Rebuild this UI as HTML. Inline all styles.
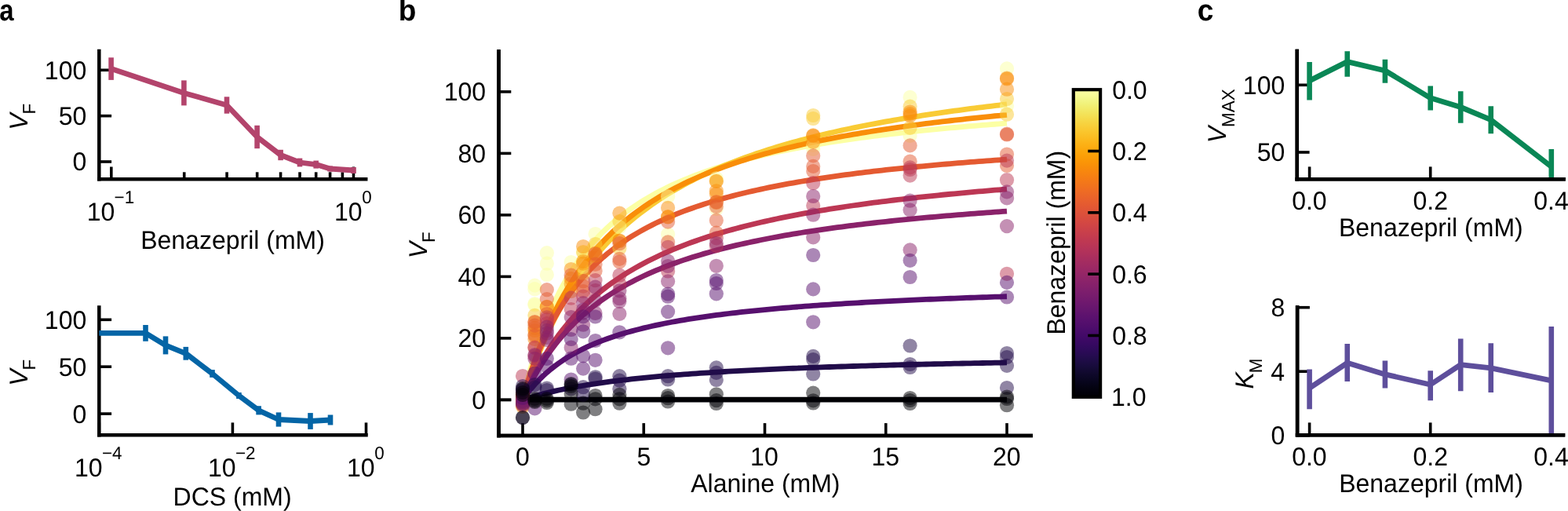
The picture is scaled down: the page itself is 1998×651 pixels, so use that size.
<!DOCTYPE html>
<html><head><meta charset="utf-8"><style>
html,body{margin:0;padding:0;background:#fff;}
svg{display:block;}
text{font-family:'Liberation Sans', Arial, sans-serif;text-rendering:geometricPrecision;}
</style></head><body>
<svg width="1998" height="651" viewBox="0 0 1998 651">
<rect width="1998" height="651" fill="#fff"/>
<text transform="translate(-0.66,26.20) scale(0.89,1.025)" font-size="37.00" font-weight="bold" fill="#000">a</text>
<text transform="translate(507.66,26.00) scale(1,1.025)" font-size="37.00" font-weight="bold" fill="#000">b</text>
<text transform="translate(1525.65,26.10) scale(1,1.025)" font-size="37.00" font-weight="bold" fill="#000">c</text>
<line x1="126.30" y1="62.85" x2="126.30" y2="230.55" stroke="#000" stroke-width="4.5" stroke-linecap="butt"/>
<line x1="124.05" y1="228.30" x2="468.45" y2="228.30" stroke="#000" stroke-width="4.5" stroke-linecap="butt"/>
<line x1="126.30" y1="89.30" x2="142.10" y2="89.30" stroke="#000" stroke-width="3.6" stroke-linecap="butt"/>
<text transform="translate(56.86,100.70) scale(1,1.025)" font-size="32.00" fill="#000">100</text>
<line x1="126.30" y1="147.65" x2="142.10" y2="147.65" stroke="#000" stroke-width="3.6" stroke-linecap="butt"/>
<text transform="translate(74.66,159.05) scale(1,1.025)" font-size="32.00" fill="#000">50</text>
<line x1="126.30" y1="206.00" x2="142.10" y2="206.00" stroke="#000" stroke-width="3.6" stroke-linecap="butt"/>
<text transform="translate(92.45,217.40) scale(1,1.025)" font-size="32.00" fill="#000">0</text>
<line x1="141.80" y1="228.30" x2="141.80" y2="212.50" stroke="#000" stroke-width="3.6" stroke-linecap="butt"/>
<line x1="450.50" y1="228.30" x2="450.50" y2="212.50" stroke="#000" stroke-width="3.6" stroke-linecap="butt"/>
<line x1="234.73" y1="228.30" x2="234.73" y2="219.30" stroke="#000" stroke-width="3.6" stroke-linecap="butt"/>
<line x1="289.09" y1="228.30" x2="289.09" y2="219.30" stroke="#000" stroke-width="3.6" stroke-linecap="butt"/>
<line x1="327.66" y1="228.30" x2="327.66" y2="219.30" stroke="#000" stroke-width="3.6" stroke-linecap="butt"/>
<line x1="357.57" y1="228.30" x2="357.57" y2="219.30" stroke="#000" stroke-width="3.6" stroke-linecap="butt"/>
<line x1="382.02" y1="228.30" x2="382.02" y2="219.30" stroke="#000" stroke-width="3.6" stroke-linecap="butt"/>
<line x1="402.68" y1="228.30" x2="402.68" y2="219.30" stroke="#000" stroke-width="3.6" stroke-linecap="butt"/>
<line x1="420.58" y1="228.30" x2="420.58" y2="219.30" stroke="#000" stroke-width="3.6" stroke-linecap="butt"/>
<line x1="436.37" y1="228.30" x2="436.37" y2="219.30" stroke="#000" stroke-width="3.6" stroke-linecap="butt"/>
<text transform="translate(110.66,280.70) scale(1,1.025)" font-size="32.00" fill="#000">10</text>
<text transform="translate(145.60,258.50) scale(1,1.025)" font-size="22.40" fill="#000">−1</text>
<text transform="translate(426.06,280.70) scale(1,1.025)" font-size="32.00" fill="#000">10</text>
<text transform="translate(461.23,258.50) scale(1,1.025)" font-size="22.40" fill="#000">0</text>
<text transform="translate(179.18,317.00) scale(1,1.025)" font-size="32.00" fill="#000">Benazepril (mM)</text>
<text transform="translate(35.00,165.77) rotate(-90) scale(1,1.025)" font-size="32.00" font-style="italic" fill="#000">V</text>
<text transform="translate(45.00,145.42) rotate(-90) scale(1,1.025)" font-size="22.40" fill="#000">F</text>
<polyline points="141.60,87.60 234.40,118.40 289.00,134.00 327.60,174.50 357.60,197.50 382.00,207.00 402.70,209.60 420.60,215.00 450.50,217.00" fill="none" stroke="#b3446c" stroke-width="6.8" stroke-linejoin="round" stroke-linecap="butt"/>
<line x1="141.60" y1="73.30" x2="141.60" y2="101.90" stroke="#b3446c" stroke-width="6.6" stroke-linecap="butt"/>
<line x1="234.40" y1="102.40" x2="234.40" y2="134.40" stroke="#b3446c" stroke-width="6.6" stroke-linecap="butt"/>
<line x1="289.00" y1="123.30" x2="289.00" y2="144.70" stroke="#b3446c" stroke-width="6.6" stroke-linecap="butt"/>
<line x1="327.60" y1="159.80" x2="327.60" y2="189.20" stroke="#b3446c" stroke-width="6.6" stroke-linecap="butt"/>
<line x1="357.60" y1="190.80" x2="357.60" y2="204.20" stroke="#b3446c" stroke-width="6.6" stroke-linecap="butt"/>
<line x1="382.00" y1="201.60" x2="382.00" y2="212.40" stroke="#b3446c" stroke-width="6.6" stroke-linecap="butt"/>
<line x1="402.70" y1="204.60" x2="402.70" y2="214.60" stroke="#b3446c" stroke-width="6.6" stroke-linecap="butt"/>
<line x1="420.60" y1="211.50" x2="420.60" y2="218.50" stroke="#b3446c" stroke-width="6.6" stroke-linecap="butt"/>
<line x1="450.50" y1="213.00" x2="450.50" y2="221.00" stroke="#b3446c" stroke-width="6.6" stroke-linecap="butt"/>
<line x1="126.30" y1="389.35" x2="126.30" y2="556.45" stroke="#000" stroke-width="4.5" stroke-linecap="butt"/>
<line x1="124.05" y1="554.20" x2="468.75" y2="554.20" stroke="#000" stroke-width="4.5" stroke-linecap="butt"/>
<line x1="126.30" y1="407.30" x2="142.10" y2="407.30" stroke="#000" stroke-width="3.6" stroke-linecap="butt"/>
<text transform="translate(56.86,418.70) scale(1,1.025)" font-size="32.00" fill="#000">100</text>
<line x1="126.30" y1="467.20" x2="142.10" y2="467.20" stroke="#000" stroke-width="3.6" stroke-linecap="butt"/>
<text transform="translate(74.66,478.60) scale(1,1.025)" font-size="32.00" fill="#000">50</text>
<line x1="126.30" y1="527.10" x2="142.10" y2="527.10" stroke="#000" stroke-width="3.6" stroke-linecap="butt"/>
<text transform="translate(92.45,538.50) scale(1,1.025)" font-size="32.00" fill="#000">0</text>
<line x1="126.30" y1="554.20" x2="126.30" y2="538.40" stroke="#000" stroke-width="3.6" stroke-linecap="butt"/>
<line x1="296.40" y1="554.20" x2="296.40" y2="538.40" stroke="#000" stroke-width="3.6" stroke-linecap="butt"/>
<line x1="466.50" y1="554.20" x2="466.50" y2="538.40" stroke="#000" stroke-width="3.6" stroke-linecap="butt"/>
<text transform="translate(95.06,606.80) scale(1,1.025)" font-size="32.00" fill="#000">10</text>
<text transform="translate(130.00,584.60) scale(1,1.025)" font-size="22.40" fill="#000">−4</text>
<text transform="translate(265.06,606.80) scale(1,1.025)" font-size="32.00" fill="#000">10</text>
<text transform="translate(300.00,584.60) scale(1,1.025)" font-size="22.40" fill="#000">−2</text>
<text transform="translate(442.06,606.80) scale(1,1.025)" font-size="32.00" fill="#000">10</text>
<text transform="translate(477.23,584.60) scale(1,1.025)" font-size="22.40" fill="#000">0</text>
<text transform="translate(220.57,643.80) scale(1,1.025)" font-size="32.00" fill="#000">DCS (mM)</text>
<text transform="translate(35.00,491.77) rotate(-90) scale(1,1.025)" font-size="32.00" font-style="italic" fill="#000">V</text>
<text transform="translate(45.00,471.42) rotate(-90) scale(1,1.025)" font-size="22.40" fill="#000">F</text>
<polyline points="126.30,424.40 185.50,424.40 211.00,439.90 236.80,450.30 270.50,476.00 304.40,504.00 329.60,522.80 355.00,534.50 395.50,536.50 421.00,535.00" fill="none" stroke="#0465a6" stroke-width="6.8" stroke-linejoin="round" stroke-linecap="butt"/>
<line x1="185.50" y1="414.00" x2="185.50" y2="434.80" stroke="#0465a6" stroke-width="6.6" stroke-linecap="butt"/>
<line x1="211.00" y1="428.40" x2="211.00" y2="451.40" stroke="#0465a6" stroke-width="6.6" stroke-linecap="butt"/>
<line x1="236.80" y1="441.90" x2="236.80" y2="458.70" stroke="#0465a6" stroke-width="6.6" stroke-linecap="butt"/>
<line x1="270.50" y1="471.10" x2="270.50" y2="480.90" stroke="#0465a6" stroke-width="6.6" stroke-linecap="butt"/>
<line x1="304.40" y1="500.00" x2="304.40" y2="508.00" stroke="#0465a6" stroke-width="6.6" stroke-linecap="butt"/>
<line x1="329.60" y1="517.20" x2="329.60" y2="528.40" stroke="#0465a6" stroke-width="6.6" stroke-linecap="butt"/>
<line x1="355.00" y1="525.40" x2="355.00" y2="543.60" stroke="#0465a6" stroke-width="6.6" stroke-linecap="butt"/>
<line x1="395.50" y1="526.10" x2="395.50" y2="546.90" stroke="#0465a6" stroke-width="6.6" stroke-linecap="butt"/>
<line x1="421.00" y1="528.50" x2="421.00" y2="541.50" stroke="#0465a6" stroke-width="6.6" stroke-linecap="butt"/>
<line x1="1652.80" y1="62.75" x2="1652.80" y2="230.45" stroke="#000" stroke-width="4.5" stroke-linecap="butt"/>
<line x1="1650.55" y1="228.20" x2="1994.85" y2="228.20" stroke="#000" stroke-width="4.5" stroke-linecap="butt"/>
<line x1="1652.80" y1="108.30" x2="1668.60" y2="108.30" stroke="#000" stroke-width="3.6" stroke-linecap="butt"/>
<text transform="translate(1583.86,119.70) scale(1,1.025)" font-size="32.00" fill="#000">100</text>
<line x1="1652.80" y1="194.00" x2="1668.60" y2="194.00" stroke="#000" stroke-width="3.6" stroke-linecap="butt"/>
<text transform="translate(1601.66,205.40) scale(1,1.025)" font-size="32.00" fill="#000">50</text>
<line x1="1668.60" y1="228.20" x2="1668.60" y2="212.40" stroke="#000" stroke-width="3.6" stroke-linecap="butt"/>
<text transform="translate(1646.16,267.30) scale(1,1.025)" font-size="32.00" fill="#000">0.0</text>
<line x1="1822.70" y1="228.20" x2="1822.70" y2="212.40" stroke="#000" stroke-width="3.6" stroke-linecap="butt"/>
<text transform="translate(1800.44,267.30) scale(1,1.025)" font-size="32.00" fill="#000">0.2</text>
<line x1="1976.80" y1="228.20" x2="1976.80" y2="212.40" stroke="#000" stroke-width="3.6" stroke-linecap="butt"/>
<text transform="translate(1954.20,267.30) scale(1,1.025)" font-size="32.00" fill="#000">0.4</text>
<text transform="translate(1705.97,300.90) scale(1,1.025)" font-size="32.00" fill="#000">Benazepril (mM)</text>
<text transform="translate(1562.30,182.27) rotate(-90) scale(1,1.025)" font-size="32.00" font-style="italic" fill="#000">V</text>
<text transform="translate(1572.80,161.92) rotate(-90) scale(1,1.025)" font-size="22.40" fill="#000">MAX</text>
<clipPath id="clipc1"><rect x="1652.8" y="65.0" width="339.79999999999995" height="163.2"/></clipPath>
<g clip-path="url(#clipc1)">
<polyline points="1668.60,102.90 1716.76,78.60 1764.91,90.00 1822.70,124.80 1861.22,136.50 1899.75,152.70 1976.80,212.40" fill="none" stroke="#0a8756" stroke-width="6.8" stroke-linejoin="round" stroke-linecap="butt"/>
<line x1="1668.60" y1="78.90" x2="1668.60" y2="127.60" stroke="#0a8756" stroke-width="6.6" stroke-linecap="butt"/>
<line x1="1716.76" y1="65.20" x2="1716.76" y2="97.80" stroke="#0a8756" stroke-width="6.6" stroke-linecap="butt"/>
<line x1="1764.91" y1="75.70" x2="1764.91" y2="105.70" stroke="#0a8756" stroke-width="6.6" stroke-linecap="butt"/>
<line x1="1822.70" y1="109.40" x2="1822.70" y2="140.50" stroke="#0a8756" stroke-width="6.6" stroke-linecap="butt"/>
<line x1="1861.22" y1="116.20" x2="1861.22" y2="156.80" stroke="#0a8756" stroke-width="6.6" stroke-linecap="butt"/>
<line x1="1899.75" y1="135.20" x2="1899.75" y2="170.20" stroke="#0a8756" stroke-width="6.6" stroke-linecap="butt"/>
<line x1="1976.80" y1="189.90" x2="1976.80" y2="234.90" stroke="#0a8756" stroke-width="6.6" stroke-linecap="butt"/>
</g>
<line x1="1652.80" y1="62.75" x2="1652.80" y2="230.45" stroke="#000" stroke-width="4.5" stroke-linecap="butt"/>
<line x1="1650.55" y1="228.20" x2="1994.85" y2="228.20" stroke="#000" stroke-width="4.5" stroke-linecap="butt"/>
<line x1="1653.10" y1="389.25" x2="1653.10" y2="556.45" stroke="#000" stroke-width="4.5" stroke-linecap="butt"/>
<line x1="1650.85" y1="554.20" x2="1994.25" y2="554.20" stroke="#000" stroke-width="4.5" stroke-linecap="butt"/>
<line x1="1653.10" y1="391.70" x2="1668.90" y2="391.70" stroke="#000" stroke-width="3.6" stroke-linecap="butt"/>
<text transform="translate(1619.59,403.10) scale(1,1.025)" font-size="32.00" fill="#000">8</text>
<line x1="1653.10" y1="473.20" x2="1668.90" y2="473.20" stroke="#000" stroke-width="3.6" stroke-linecap="butt"/>
<text transform="translate(1619.14,484.60) scale(1,1.025)" font-size="32.00" fill="#000">4</text>
<line x1="1653.10" y1="554.70" x2="1668.90" y2="554.70" stroke="#000" stroke-width="3.6" stroke-linecap="butt"/>
<text transform="translate(1619.45,566.10) scale(1,1.025)" font-size="32.00" fill="#000">0</text>
<line x1="1668.60" y1="554.20" x2="1668.60" y2="538.40" stroke="#000" stroke-width="3.6" stroke-linecap="butt"/>
<text transform="translate(1646.16,593.40) scale(1,1.025)" font-size="32.00" fill="#000">0.0</text>
<line x1="1822.70" y1="554.20" x2="1822.70" y2="538.40" stroke="#000" stroke-width="3.6" stroke-linecap="butt"/>
<text transform="translate(1800.44,593.40) scale(1,1.025)" font-size="32.00" fill="#000">0.2</text>
<line x1="1976.80" y1="554.20" x2="1976.80" y2="538.40" stroke="#000" stroke-width="3.6" stroke-linecap="butt"/>
<text transform="translate(1954.20,593.40) scale(1,1.025)" font-size="32.00" fill="#000">0.4</text>
<text transform="translate(1706.17,627.00) scale(1,1.025)" font-size="32.00" fill="#000">Benazepril (mM)</text>
<text transform="translate(1596.90,495.48) rotate(-90) scale(1,1.025)" font-size="32.00" font-style="italic" fill="#000">K</text>
<text transform="translate(1607.50,475.14) rotate(-90) scale(1,1.025)" font-size="22.40" fill="#000">M</text>
<clipPath id="clipc2"><rect x="1653.1" y="391.5" width="338.9000000000001" height="162.70000000000005"/></clipPath>
<g clip-path="url(#clipc2)">
<polyline points="1668.60,494.30 1716.76,462.30 1764.91,476.90 1822.70,490.00 1861.22,464.60 1899.75,468.80 1976.80,484.80" fill="none" stroke="#5e4f9c" stroke-width="6.8" stroke-linejoin="round" stroke-linecap="butt"/>
<line x1="1668.60" y1="470.40" x2="1668.60" y2="521.30" stroke="#5e4f9c" stroke-width="6.6" stroke-linecap="butt"/>
<line x1="1716.76" y1="438.10" x2="1716.76" y2="486.00" stroke="#5e4f9c" stroke-width="6.6" stroke-linecap="butt"/>
<line x1="1764.91" y1="459.50" x2="1764.91" y2="494.60" stroke="#5e4f9c" stroke-width="6.6" stroke-linecap="butt"/>
<line x1="1822.70" y1="472.20" x2="1822.70" y2="510.20" stroke="#5e4f9c" stroke-width="6.6" stroke-linecap="butt"/>
<line x1="1861.22" y1="431.40" x2="1861.22" y2="498.30" stroke="#5e4f9c" stroke-width="6.6" stroke-linecap="butt"/>
<line x1="1899.75" y1="437.30" x2="1899.75" y2="500.00" stroke="#5e4f9c" stroke-width="6.6" stroke-linecap="butt"/>
<line x1="1976.80" y1="416.00" x2="1976.80" y2="560.00" stroke="#5e4f9c" stroke-width="6.6" stroke-linecap="butt"/>
</g>
<line x1="1653.10" y1="389.25" x2="1653.10" y2="556.45" stroke="#000" stroke-width="4.5" stroke-linecap="butt"/>
<line x1="1650.85" y1="554.20" x2="1994.25" y2="554.20" stroke="#000" stroke-width="4.5" stroke-linecap="butt"/>
<line x1="635.50" y1="63.35" x2="635.50" y2="557.15" stroke="#000" stroke-width="4.5" stroke-linecap="butt"/>
<line x1="633.25" y1="554.90" x2="1315.95" y2="554.90" stroke="#000" stroke-width="4.5" stroke-linecap="butt"/>
<line x1="635.50" y1="509.40" x2="651.30" y2="509.40" stroke="#000" stroke-width="3.6" stroke-linecap="butt"/>
<text transform="translate(601.25,520.80) scale(1,1.025)" font-size="32.00" fill="#000">0</text>
<line x1="635.50" y1="430.90" x2="651.30" y2="430.90" stroke="#000" stroke-width="3.6" stroke-linecap="butt"/>
<text transform="translate(583.46,442.30) scale(1,1.025)" font-size="32.00" fill="#000">20</text>
<line x1="635.50" y1="352.40" x2="651.30" y2="352.40" stroke="#000" stroke-width="3.6" stroke-linecap="butt"/>
<text transform="translate(583.46,363.80) scale(1,1.025)" font-size="32.00" fill="#000">40</text>
<line x1="635.50" y1="273.90" x2="651.30" y2="273.90" stroke="#000" stroke-width="3.6" stroke-linecap="butt"/>
<text transform="translate(583.46,285.30) scale(1,1.025)" font-size="32.00" fill="#000">60</text>
<line x1="635.50" y1="195.40" x2="651.30" y2="195.40" stroke="#000" stroke-width="3.6" stroke-linecap="butt"/>
<text transform="translate(583.46,206.80) scale(1,1.025)" font-size="32.00" fill="#000">80</text>
<line x1="635.50" y1="116.90" x2="651.30" y2="116.90" stroke="#000" stroke-width="3.6" stroke-linecap="butt"/>
<text transform="translate(565.66,128.30) scale(1,1.025)" font-size="32.00" fill="#000">100</text>
<line x1="666.00" y1="554.90" x2="666.00" y2="539.10" stroke="#000" stroke-width="3.6" stroke-linecap="butt"/>
<text transform="translate(657.10,593.00) scale(1,1.025)" font-size="32.00" fill="#000">0</text>
<line x1="820.25" y1="554.90" x2="820.25" y2="539.10" stroke="#000" stroke-width="3.6" stroke-linecap="butt"/>
<text transform="translate(811.38,593.00) scale(1,1.025)" font-size="32.00" fill="#000">5</text>
<line x1="974.50" y1="554.90" x2="974.50" y2="539.10" stroke="#000" stroke-width="3.6" stroke-linecap="butt"/>
<text transform="translate(956.11,593.00) scale(1,1.025)" font-size="32.00" fill="#000">10</text>
<line x1="1128.75" y1="554.90" x2="1128.75" y2="539.10" stroke="#000" stroke-width="3.6" stroke-linecap="butt"/>
<text transform="translate(1110.41,593.00) scale(1,1.025)" font-size="32.00" fill="#000">15</text>
<line x1="1283.00" y1="554.90" x2="1283.00" y2="539.10" stroke="#000" stroke-width="3.6" stroke-linecap="butt"/>
<text transform="translate(1265.02,593.00) scale(1,1.025)" font-size="32.00" fill="#000">20</text>
<text transform="translate(880.24,627.30) scale(1,1.025)" font-size="32.00" fill="#000">Alanine (mM)</text>
<text transform="translate(543.90,329.27) rotate(-90) scale(1,1.025)" font-size="32.00" font-style="italic" fill="#000">V</text>
<text transform="translate(553.90,308.92) rotate(-90) scale(1,1.025)" font-size="22.40" fill="#000">F</text>
<linearGradient id="cbg" x1="0" y1="0" x2="0" y2="1"><stop offset="0.0000" stop-color="#fcffa4"/><stop offset="0.0156" stop-color="#f8fb9a"/><stop offset="0.0312" stop-color="#f3f68a"/><stop offset="0.0469" stop-color="#f1f179"/><stop offset="0.0625" stop-color="#f2ea69"/><stop offset="0.0781" stop-color="#f3e35a"/><stop offset="0.0938" stop-color="#f5db4c"/><stop offset="0.1094" stop-color="#f7d340"/><stop offset="0.1250" stop-color="#f9cb35"/><stop offset="0.1406" stop-color="#fac42a"/><stop offset="0.1562" stop-color="#fbbc21"/><stop offset="0.1719" stop-color="#fcb418"/><stop offset="0.1875" stop-color="#fcac11"/><stop offset="0.2031" stop-color="#fca50a"/><stop offset="0.2188" stop-color="#fb9d07"/><stop offset="0.2344" stop-color="#fb9606"/><stop offset="0.2500" stop-color="#f98e09"/><stop offset="0.2656" stop-color="#f8870e"/><stop offset="0.2812" stop-color="#f68013"/><stop offset="0.2969" stop-color="#f47918"/><stop offset="0.3125" stop-color="#f1731d"/><stop offset="0.3281" stop-color="#ef6c23"/><stop offset="0.3438" stop-color="#eb6628"/><stop offset="0.3594" stop-color="#e8602d"/><stop offset="0.3750" stop-color="#e45a31"/><stop offset="0.3906" stop-color="#e05536"/><stop offset="0.4062" stop-color="#db503b"/><stop offset="0.4219" stop-color="#d74b3f"/><stop offset="0.4375" stop-color="#d24644"/><stop offset="0.4531" stop-color="#cc4248"/><stop offset="0.4688" stop-color="#c73e4c"/><stop offset="0.4844" stop-color="#c13a50"/><stop offset="0.5000" stop-color="#bc3754"/><stop offset="0.5156" stop-color="#b63458"/><stop offset="0.5312" stop-color="#b0315b"/><stop offset="0.5469" stop-color="#a92e5e"/><stop offset="0.5625" stop-color="#a32c61"/><stop offset="0.5781" stop-color="#9d2964"/><stop offset="0.5938" stop-color="#972766"/><stop offset="0.6094" stop-color="#902568"/><stop offset="0.6250" stop-color="#8a226a"/><stop offset="0.6406" stop-color="#84206b"/><stop offset="0.6562" stop-color="#7d1e6d"/><stop offset="0.6719" stop-color="#771c6d"/><stop offset="0.6875" stop-color="#71196e"/><stop offset="0.7031" stop-color="#6a176e"/><stop offset="0.7188" stop-color="#64156e"/><stop offset="0.7344" stop-color="#5d126e"/><stop offset="0.7500" stop-color="#57106e"/><stop offset="0.7656" stop-color="#510e6c"/><stop offset="0.7812" stop-color="#4a0c6b"/><stop offset="0.7969" stop-color="#440a68"/><stop offset="0.8125" stop-color="#3d0965"/><stop offset="0.8281" stop-color="#360961"/><stop offset="0.8438" stop-color="#2f0a5b"/><stop offset="0.8594" stop-color="#280b53"/><stop offset="0.8750" stop-color="#210c4a"/><stop offset="0.8906" stop-color="#1b0c41"/><stop offset="0.9062" stop-color="#150b37"/><stop offset="0.9219" stop-color="#10092d"/><stop offset="0.9375" stop-color="#0b0724"/><stop offset="0.9531" stop-color="#07051b"/><stop offset="0.9688" stop-color="#040312"/><stop offset="0.9844" stop-color="#02010a"/><stop offset="1.0000" stop-color="#000004"/></linearGradient>
<rect x="1367.8" y="114.2" width="34.299999999999955" height="391.6" fill="url(#cbg)"/>
<line x1="1402.10" y1="192.52" x2="1386.30" y2="192.52" stroke="#000" stroke-width="3.6" stroke-linecap="butt"/>
<line x1="1402.10" y1="270.84" x2="1386.30" y2="270.84" stroke="#000" stroke-width="3.6" stroke-linecap="butt"/>
<line x1="1402.10" y1="349.16" x2="1386.30" y2="349.16" stroke="#000" stroke-width="3.6" stroke-linecap="butt"/>
<line x1="1402.10" y1="427.48" x2="1386.30" y2="427.48" stroke="#000" stroke-width="3.6" stroke-linecap="butt"/>
<rect x="1367.8" y="114.2" width="34.299999999999955" height="391.6" fill="none" stroke="#000" stroke-width="4.2"/>
<text transform="translate(1417.15,125.80) scale(1,1.025)" font-size="32.00" fill="#000">0.0</text>
<text transform="translate(1417.15,204.12) scale(1,1.025)" font-size="32.00" fill="#000">0.2</text>
<text transform="translate(1417.15,282.44) scale(1,1.025)" font-size="32.00" fill="#000">0.4</text>
<text transform="translate(1417.15,360.76) scale(1,1.025)" font-size="32.00" fill="#000">0.6</text>
<text transform="translate(1417.15,439.08) scale(1,1.025)" font-size="32.00" fill="#000">0.8</text>
<text transform="translate(1415.96,517.40) scale(1,1.025)" font-size="32.00" fill="#000">1.0</text>
<text transform="translate(1356.90,426.62) rotate(-90) scale(1,1.025)" font-size="32.00" fill="#000">Benazepril (mM)</text>
<clipPath id="clipb"><rect x="635.5" y="65.6" width="678.2" height="489.29999999999995"/></clipPath>
<g clip-path="url(#clipb)">
<polyline points="666.00,509.40 671.14,487.78 676.28,468.36 681.42,450.81 686.57,434.88 691.71,420.35 696.85,407.05 701.99,394.83 707.13,383.56 712.27,373.13 717.42,363.45 722.56,354.45 727.70,346.06 732.84,338.21 737.98,330.86 743.12,323.95 748.27,317.46 753.41,311.34 758.55,305.56 763.69,300.10 768.83,294.93 773.98,290.03 779.12,285.37 784.26,280.94 789.40,276.72 794.54,272.71 799.68,268.87 804.83,265.21 809.97,261.70 815.11,258.35 820.25,255.14 825.39,252.06 830.53,249.10 835.67,246.26 840.82,243.53 845.96,240.91 851.10,238.38 856.24,235.94 861.38,233.59 866.52,231.33 871.67,229.14 876.81,227.03 881.95,224.99 887.09,223.01 892.23,221.10 897.38,219.25 902.52,217.46 907.66,215.72 912.80,214.04 917.94,212.41 923.08,210.82 928.23,209.28 933.37,207.79 938.51,206.34 943.65,204.93 948.79,203.55 953.93,202.22 959.08,200.92 964.22,199.65 969.36,198.42 974.50,197.22 979.64,196.05 984.78,194.91 989.92,193.79 995.07,192.71 1000.21,191.65 1005.35,190.62 1010.49,189.61 1015.63,188.62 1020.78,187.66 1025.92,186.72 1031.06,185.80 1036.20,184.90 1041.34,184.02 1046.48,183.16 1051.62,182.32 1056.77,181.49 1061.91,180.69 1067.05,179.90 1072.19,179.12 1077.33,178.37 1082.47,177.62 1087.62,176.90 1092.76,176.18 1097.90,175.49 1103.04,174.80 1108.18,174.13 1113.33,173.47 1118.47,172.82 1123.61,172.19 1128.75,171.57 1133.89,170.95 1139.03,170.35 1144.17,169.77 1149.32,169.19 1154.46,168.62 1159.60,168.06 1164.74,167.51 1169.88,166.97 1175.03,166.44 1180.17,165.92 1185.31,165.41 1190.45,164.91 1195.59,164.41 1200.73,163.92 1205.88,163.44 1211.02,162.97 1216.16,162.51 1221.30,162.05 1226.44,161.60 1231.58,161.16 1236.72,160.72 1241.87,160.30 1247.01,159.87 1252.15,159.46 1257.29,159.05 1262.43,158.65 1267.58,158.25 1272.72,157.86 1277.86,157.47 1283.00,157.09" fill="none" stroke="#fcffa4" stroke-width="6.8" stroke-linejoin="round" stroke-linecap="butt"/>
<polyline points="666.00,509.40 671.14,493.21 676.28,478.11 681.42,463.99 686.57,450.77 691.71,438.36 696.85,426.69 701.99,415.70 707.13,405.32 712.27,395.51 717.42,386.22 722.56,377.41 727.70,369.05 732.84,361.10 737.98,353.53 743.12,346.32 748.27,339.44 753.41,332.86 758.55,326.58 763.69,320.56 768.83,314.80 773.98,309.27 779.12,303.97 784.26,298.88 789.40,293.98 794.54,289.27 799.68,284.74 804.83,280.37 809.97,276.16 815.11,272.10 820.25,268.18 825.39,264.39 830.53,260.73 835.67,257.19 840.82,253.77 845.96,250.45 851.10,247.24 856.24,244.13 861.38,241.11 866.52,238.19 871.67,235.35 876.81,232.59 881.95,229.91 887.09,227.31 892.23,224.78 897.38,222.32 902.52,219.93 907.66,217.60 912.80,215.34 917.94,213.13 923.08,210.98 928.23,208.88 933.37,206.84 938.51,204.85 943.65,202.90 948.79,201.01 953.93,199.16 959.08,197.35 964.22,195.58 969.36,193.86 974.50,192.17 979.64,190.53 984.78,188.92 989.92,187.34 995.07,185.80 1000.21,184.29 1005.35,182.82 1010.49,181.38 1015.63,179.96 1020.78,178.58 1025.92,177.22 1031.06,175.89 1036.20,174.59 1041.34,173.32 1046.48,172.07 1051.62,170.84 1056.77,169.64 1061.91,168.46 1067.05,167.30 1072.19,166.17 1077.33,165.05 1082.47,163.96 1087.62,162.88 1092.76,161.83 1097.90,160.79 1103.04,159.78 1108.18,158.78 1113.33,157.79 1118.47,156.83 1123.61,155.88 1128.75,154.95 1133.89,154.03 1139.03,153.13 1144.17,152.24 1149.32,151.37 1154.46,150.52 1159.60,149.67 1164.74,148.84 1169.88,148.02 1175.03,147.22 1180.17,146.43 1185.31,145.65 1190.45,144.88 1195.59,144.13 1200.73,143.38 1205.88,142.65 1211.02,141.93 1216.16,141.22 1221.30,140.52 1226.44,139.83 1231.58,139.15 1236.72,138.48 1241.87,137.82 1247.01,137.17 1252.15,136.52 1257.29,135.89 1262.43,135.27 1267.58,134.65 1272.72,134.04 1277.86,133.45 1283.00,132.86" fill="none" stroke="#f9cb35" stroke-width="6.8" stroke-linejoin="round" stroke-linecap="butt"/>
<polyline points="666.00,509.40 671.14,491.17 676.28,474.41 681.42,458.96 686.57,444.67 691.71,431.41 696.85,419.08 701.99,407.57 707.13,396.82 712.27,386.74 717.42,377.29 722.56,368.39 727.70,360.01 732.84,352.09 737.98,344.61 743.12,337.52 748.27,330.81 753.41,324.43 758.55,318.36 763.69,312.58 768.83,307.08 773.98,301.83 779.12,296.81 784.26,292.01 789.40,287.42 794.54,283.02 799.68,278.80 804.83,274.75 809.97,270.86 815.11,267.13 820.25,263.53 825.39,260.07 830.53,256.73 835.67,253.51 840.82,250.41 845.96,247.42 851.10,244.52 856.24,241.73 861.38,239.02 866.52,236.41 871.67,233.87 876.81,231.42 881.95,229.04 887.09,226.74 892.23,224.50 897.38,222.33 902.52,220.23 907.66,218.18 912.80,216.19 917.94,214.26 923.08,212.38 928.23,210.55 933.37,208.77 938.51,207.04 943.65,205.35 948.79,203.71 953.93,202.10 959.08,200.54 964.22,199.02 969.36,197.53 974.50,196.08 979.64,194.67 984.78,193.29 989.92,191.94 995.07,190.62 1000.21,189.33 1005.35,188.07 1010.49,186.84 1015.63,185.64 1020.78,184.46 1025.92,183.30 1031.06,182.18 1036.20,181.07 1041.34,179.99 1046.48,178.93 1051.62,177.90 1056.77,176.88 1061.91,175.89 1067.05,174.91 1072.19,173.95 1077.33,173.02 1082.47,172.10 1087.62,171.19 1092.76,170.31 1097.90,169.44 1103.04,168.59 1108.18,167.75 1113.33,166.93 1118.47,166.12 1123.61,165.33 1128.75,164.55 1133.89,163.79 1139.03,163.04 1144.17,162.30 1149.32,161.57 1154.46,160.86 1159.60,160.16 1164.74,159.47 1169.88,158.79 1175.03,158.12 1180.17,157.47 1185.31,156.82 1190.45,156.19 1195.59,155.56 1200.73,154.95 1205.88,154.34 1211.02,153.75 1216.16,153.16 1221.30,152.58 1226.44,152.01 1231.58,151.45 1236.72,150.90 1241.87,150.36 1247.01,149.82 1252.15,149.29 1257.29,148.77 1262.43,148.26 1267.58,147.75 1272.72,147.26 1277.86,146.76 1283.00,146.28" fill="none" stroke="#f98e09" stroke-width="6.8" stroke-linejoin="round" stroke-linecap="butt"/>
<polyline points="666.00,509.40 671.14,491.68 676.28,475.64 681.42,461.06 686.57,447.75 691.71,435.54 696.85,424.31 701.99,413.94 707.13,404.35 712.27,395.43 717.42,387.13 722.56,379.39 727.70,372.14 732.84,365.34 737.98,358.96 743.12,352.95 748.27,347.29 753.41,341.94 758.55,336.88 763.69,332.08 768.83,327.53 773.98,323.21 779.12,319.10 784.26,315.19 789.40,311.45 794.54,307.89 799.68,304.48 804.83,301.23 809.97,298.11 815.11,295.12 820.25,292.25 825.39,289.50 830.53,286.86 835.67,284.31 840.82,281.87 845.96,279.51 851.10,277.24 856.24,275.05 861.38,272.94 866.52,270.90 871.67,268.93 876.81,267.02 881.95,265.18 887.09,263.39 892.23,261.67 897.38,260.00 902.52,258.37 907.66,256.80 912.80,255.28 917.94,253.80 923.08,252.36 928.23,250.96 933.37,249.61 938.51,248.29 943.65,247.00 948.79,245.75 953.93,244.54 959.08,243.36 964.22,242.20 969.36,241.08 974.50,239.98 979.64,238.92 984.78,237.88 989.92,236.86 995.07,235.87 1000.21,234.90 1005.35,233.96 1010.49,233.03 1015.63,232.13 1020.78,231.25 1025.92,230.39 1031.06,229.55 1036.20,228.72 1041.34,227.92 1046.48,227.13 1051.62,226.36 1056.77,225.60 1061.91,224.86 1067.05,224.14 1072.19,223.43 1077.33,222.73 1082.47,222.05 1087.62,221.39 1092.76,220.73 1097.90,220.09 1103.04,219.46 1108.18,218.84 1113.33,218.23 1118.47,217.64 1123.61,217.06 1128.75,216.48 1133.89,215.92 1139.03,215.37 1144.17,214.83 1149.32,214.29 1154.46,213.77 1159.60,213.25 1164.74,212.75 1169.88,212.25 1175.03,211.76 1180.17,211.28 1185.31,210.81 1190.45,210.34 1195.59,209.89 1200.73,209.44 1205.88,209.00 1211.02,208.56 1216.16,208.13 1221.30,207.71 1226.44,207.30 1231.58,206.89 1236.72,206.48 1241.87,206.09 1247.01,205.70 1252.15,205.31 1257.29,204.94 1262.43,204.56 1267.58,204.20 1272.72,203.83 1277.86,203.48 1283.00,203.12" fill="none" stroke="#e45a31" stroke-width="6.8" stroke-linejoin="round" stroke-linecap="butt"/>
<polyline points="666.00,509.40 671.14,497.49 676.28,486.42 681.42,476.09 686.57,466.45 691.71,457.41 696.85,448.93 701.99,440.96 707.13,433.45 712.27,426.36 717.42,419.66 722.56,413.31 727.70,407.30 732.84,401.59 737.98,396.16 743.12,391.00 748.27,386.07 753.41,381.38 758.55,376.89 763.69,372.60 768.83,368.50 773.98,364.57 779.12,360.80 784.26,357.18 789.40,353.71 794.54,350.37 799.68,347.15 804.83,344.06 809.97,341.08 815.11,338.21 820.25,335.44 825.39,332.77 830.53,330.19 835.67,327.69 840.82,325.28 845.96,322.94 851.10,320.68 856.24,318.49 861.38,316.37 866.52,314.32 871.67,312.32 876.81,310.39 881.95,308.51 887.09,306.69 892.23,304.91 897.38,303.19 902.52,301.51 907.66,299.88 912.80,298.30 917.94,296.75 923.08,295.25 928.23,293.78 933.37,292.36 938.51,290.96 943.65,289.61 948.79,288.28 953.93,286.99 959.08,285.73 964.22,284.50 969.36,283.29 974.50,282.12 979.64,280.97 984.78,279.85 989.92,278.75 995.07,277.68 1000.21,276.63 1005.35,275.61 1010.49,274.60 1015.63,273.62 1020.78,272.65 1025.92,271.71 1031.06,270.79 1036.20,269.88 1041.34,269.00 1046.48,268.13 1051.62,267.28 1056.77,266.44 1061.91,265.62 1067.05,264.82 1072.19,264.03 1077.33,263.26 1082.47,262.50 1087.62,261.75 1092.76,261.02 1097.90,260.31 1103.04,259.60 1108.18,258.91 1113.33,258.23 1118.47,257.56 1123.61,256.90 1128.75,256.26 1133.89,255.62 1139.03,255.00 1144.17,254.38 1149.32,253.78 1154.46,253.19 1159.60,252.60 1164.74,252.03 1169.88,251.46 1175.03,250.91 1180.17,250.36 1185.31,249.82 1190.45,249.29 1195.59,248.77 1200.73,248.25 1205.88,247.75 1211.02,247.25 1216.16,246.76 1221.30,246.27 1226.44,245.80 1231.58,245.33 1236.72,244.86 1241.87,244.41 1247.01,243.96 1252.15,243.52 1257.29,243.08 1262.43,242.65 1267.58,242.22 1272.72,241.80 1277.86,241.39 1283.00,240.98" fill="none" stroke="#bc3754" stroke-width="6.8" stroke-linejoin="round" stroke-linecap="butt"/>
<polyline points="666.00,509.40 671.14,498.32 676.28,488.06 681.42,478.52 686.57,469.64 691.71,461.34 696.85,453.58 701.99,446.29 707.13,439.44 712.27,433.00 717.42,426.91 722.56,421.17 727.70,415.73 732.84,410.58 737.98,405.69 743.12,401.04 748.27,396.62 753.41,392.40 758.55,388.38 763.69,384.55 768.83,380.88 773.98,377.37 779.12,374.01 784.26,370.79 789.40,367.70 794.54,364.73 799.68,361.88 804.83,359.14 809.97,356.50 815.11,353.96 820.25,351.51 825.39,349.14 830.53,346.86 835.67,344.66 840.82,342.53 845.96,340.47 851.10,338.48 856.24,336.56 861.38,334.69 866.52,332.88 871.67,331.13 876.81,329.43 881.95,327.79 887.09,326.19 892.23,324.63 897.38,323.12 902.52,321.65 907.66,320.23 912.80,318.84 917.94,317.49 923.08,316.17 928.23,314.89 933.37,313.65 938.51,312.43 943.65,311.25 948.79,310.09 953.93,308.97 959.08,307.87 964.22,306.80 969.36,305.75 974.50,304.73 979.64,303.73 984.78,302.75 989.92,301.80 995.07,300.86 1000.21,299.95 1005.35,299.06 1010.49,298.19 1015.63,297.33 1020.78,296.50 1025.92,295.68 1031.06,294.88 1036.20,294.09 1041.34,293.33 1046.48,292.57 1051.62,291.83 1056.77,291.11 1061.91,290.40 1067.05,289.70 1072.19,289.02 1077.33,288.35 1082.47,287.70 1087.62,287.05 1092.76,286.42 1097.90,285.80 1103.04,285.19 1108.18,284.59 1113.33,284.00 1118.47,283.42 1123.61,282.86 1128.75,282.30 1133.89,281.75 1139.03,281.21 1144.17,280.68 1149.32,280.16 1154.46,279.65 1159.60,279.14 1164.74,278.65 1169.88,278.16 1175.03,277.68 1180.17,277.21 1185.31,276.74 1190.45,276.29 1195.59,275.84 1200.73,275.39 1205.88,274.96 1211.02,274.53 1216.16,274.10 1221.30,273.69 1226.44,273.28 1231.58,272.87 1236.72,272.47 1241.87,272.08 1247.01,271.69 1252.15,271.31 1257.29,270.94 1262.43,270.57 1267.58,270.20 1272.72,269.84 1277.86,269.48 1283.00,269.13" fill="none" stroke="#8a226a" stroke-width="6.8" stroke-linejoin="round" stroke-linecap="butt"/>
<polyline points="666.00,509.40 671.14,502.25 676.28,495.74 681.42,489.77 686.57,484.30 691.71,479.25 696.85,474.58 701.99,470.25 707.13,466.22 712.27,462.47 717.42,458.96 722.56,455.67 727.70,452.59 732.84,449.68 737.98,446.95 743.12,444.37 748.27,441.93 753.41,439.62 758.55,437.43 763.69,435.35 768.83,433.38 773.98,431.49 779.12,429.70 784.26,427.99 789.40,426.36 794.54,424.79 799.68,423.30 804.83,421.87 809.97,420.49 815.11,419.18 820.25,417.91 825.39,416.69 830.53,415.52 835.67,414.40 840.82,413.31 845.96,412.26 851.10,411.25 856.24,410.28 861.38,409.34 866.52,408.43 871.67,407.55 876.81,406.70 881.95,405.87 887.09,405.08 892.23,404.30 897.38,403.55 902.52,402.83 907.66,402.12 912.80,401.44 917.94,400.77 923.08,400.13 928.23,399.50 933.37,398.89 938.51,398.29 943.65,397.71 948.79,397.15 953.93,396.60 959.08,396.07 964.22,395.55 969.36,395.04 974.50,394.54 979.64,394.06 984.78,393.59 989.92,393.13 995.07,392.68 1000.21,392.24 1005.35,391.81 1010.49,391.39 1015.63,390.99 1020.78,390.59 1025.92,390.19 1031.06,389.81 1036.20,389.44 1041.34,389.07 1046.48,388.71 1051.62,388.36 1056.77,388.02 1061.91,387.68 1067.05,387.35 1072.19,387.03 1077.33,386.71 1082.47,386.40 1087.62,386.09 1092.76,385.80 1097.90,385.50 1103.04,385.21 1108.18,384.93 1113.33,384.66 1118.47,384.38 1123.61,384.12 1128.75,383.86 1133.89,383.60 1139.03,383.35 1144.17,383.10 1149.32,382.85 1154.46,382.61 1159.60,382.38 1164.74,382.15 1169.88,381.92 1175.03,381.69 1180.17,381.47 1185.31,381.26 1190.45,381.05 1195.59,380.84 1200.73,380.63 1205.88,380.43 1211.02,380.23 1216.16,380.03 1221.30,379.84 1226.44,379.65 1231.58,379.46 1236.72,379.27 1241.87,379.09 1247.01,378.91 1252.15,378.74 1257.29,378.56 1262.43,378.39 1267.58,378.22 1272.72,378.05 1277.86,377.89 1283.00,377.73" fill="none" stroke="#57106e" stroke-width="6.8" stroke-linejoin="round" stroke-linecap="butt"/>
<polyline points="666.00,509.40 671.14,507.73 676.28,506.15 681.42,504.65 686.57,503.23 691.71,501.87 696.85,500.58 701.99,499.35 707.13,498.17 712.27,497.05 717.42,495.98 722.56,494.95 727.70,493.96 732.84,493.02 737.98,492.11 743.12,491.24 748.27,490.40 753.41,489.60 758.55,488.82 763.69,488.07 768.83,487.35 773.98,486.65 779.12,485.98 784.26,485.33 789.40,484.70 794.54,484.10 799.68,483.51 804.83,482.94 809.97,482.39 815.11,481.85 820.25,481.34 825.39,480.83 830.53,480.35 835.67,479.87 840.82,479.41 845.96,478.96 851.10,478.53 856.24,478.11 861.38,477.70 866.52,477.30 871.67,476.91 876.81,476.53 881.95,476.16 887.09,475.79 892.23,475.44 897.38,475.10 902.52,474.77 907.66,474.44 912.80,474.12 917.94,473.81 923.08,473.50 928.23,473.21 933.37,472.92 938.51,472.63 943.65,472.36 948.79,472.08 953.93,471.82 959.08,471.56 964.22,471.30 969.36,471.06 974.50,470.81 979.64,470.57 984.78,470.34 989.92,470.11 995.07,469.89 1000.21,469.67 1005.35,469.45 1010.49,469.24 1015.63,469.03 1020.78,468.83 1025.92,468.63 1031.06,468.43 1036.20,468.24 1041.34,468.05 1046.48,467.87 1051.62,467.68 1056.77,467.50 1061.91,467.33 1067.05,467.16 1072.19,466.99 1077.33,466.82 1082.47,466.66 1087.62,466.50 1092.76,466.34 1097.90,466.18 1103.04,466.03 1108.18,465.88 1113.33,465.73 1118.47,465.58 1123.61,465.44 1128.75,465.30 1133.89,465.16 1139.03,465.02 1144.17,464.89 1149.32,464.76 1154.46,464.63 1159.60,464.50 1164.74,464.37 1169.88,464.25 1175.03,464.12 1180.17,464.00 1185.31,463.88 1190.45,463.77 1195.59,463.65 1200.73,463.54 1205.88,463.42 1211.02,463.31 1216.16,463.20 1221.30,463.09 1226.44,462.99 1231.58,462.88 1236.72,462.78 1241.87,462.68 1247.01,462.58 1252.15,462.48 1257.29,462.38 1262.43,462.28 1267.58,462.19 1272.72,462.09 1277.86,462.00 1283.00,461.91" fill="none" stroke="#210c4a" stroke-width="6.8" stroke-linejoin="round" stroke-linecap="butt"/>
<polyline points="666.00,509.40 671.14,509.34 676.28,509.30 681.42,509.27 686.57,509.24 691.71,509.22 696.85,509.20 701.99,509.19 707.13,509.18 712.27,509.16 717.42,509.15 722.56,509.15 727.70,509.14 732.84,509.13 737.98,509.13 743.12,509.12 748.27,509.11 753.41,509.11 758.55,509.11 763.69,509.10 768.83,509.10 773.98,509.09 779.12,509.09 784.26,509.09 789.40,509.09 794.54,509.08 799.68,509.08 804.83,509.08 809.97,509.08 815.11,509.07 820.25,509.07 825.39,509.07 830.53,509.07 835.67,509.07 840.82,509.07 845.96,509.06 851.10,509.06 856.24,509.06 861.38,509.06 866.52,509.06 871.67,509.06 876.81,509.06 881.95,509.06 887.09,509.06 892.23,509.05 897.38,509.05 902.52,509.05 907.66,509.05 912.80,509.05 917.94,509.05 923.08,509.05 928.23,509.05 933.37,509.05 938.51,509.05 943.65,509.05 948.79,509.05 953.93,509.05 959.08,509.04 964.22,509.04 969.36,509.04 974.50,509.04 979.64,509.04 984.78,509.04 989.92,509.04 995.07,509.04 1000.21,509.04 1005.35,509.04 1010.49,509.04 1015.63,509.04 1020.78,509.04 1025.92,509.04 1031.06,509.04 1036.20,509.04 1041.34,509.04 1046.48,509.04 1051.62,509.04 1056.77,509.04 1061.91,509.04 1067.05,509.04 1072.19,509.04 1077.33,509.03 1082.47,509.03 1087.62,509.03 1092.76,509.03 1097.90,509.03 1103.04,509.03 1108.18,509.03 1113.33,509.03 1118.47,509.03 1123.61,509.03 1128.75,509.03 1133.89,509.03 1139.03,509.03 1144.17,509.03 1149.32,509.03 1154.46,509.03 1159.60,509.03 1164.74,509.03 1169.88,509.03 1175.03,509.03 1180.17,509.03 1185.31,509.03 1190.45,509.03 1195.59,509.03 1200.73,509.03 1205.88,509.03 1211.02,509.03 1216.16,509.03 1221.30,509.03 1226.44,509.03 1231.58,509.03 1236.72,509.03 1241.87,509.03 1247.01,509.03 1252.15,509.03 1257.29,509.03 1262.43,509.03 1267.58,509.03 1272.72,509.03 1277.86,509.03 1283.00,509.03" fill="none" stroke="#000004" stroke-width="6.8" stroke-linejoin="round" stroke-linecap="butt"/>
<circle cx="1283.00" cy="87.40" r="9.1" fill="#fcffa4" fill-opacity="0.5"/>
<circle cx="1283.00" cy="135.00" r="9.1" fill="#fcffa4" fill-opacity="0.5"/>
<circle cx="1159.60" cy="123.90" r="9.1" fill="#fcffa4" fill-opacity="0.5"/>
<circle cx="1159.60" cy="172.90" r="9.1" fill="#fcffa4" fill-opacity="0.5"/>
<circle cx="1036.20" cy="185.00" r="9.1" fill="#fcffa4" fill-opacity="0.5"/>
<circle cx="1036.20" cy="190.00" r="9.1" fill="#fcffa4" fill-opacity="0.5"/>
<circle cx="912.80" cy="227.30" r="9.1" fill="#fcffa4" fill-opacity="0.5"/>
<circle cx="912.80" cy="266.00" r="9.1" fill="#fcffa4" fill-opacity="0.5"/>
<circle cx="851.10" cy="250.30" r="9.1" fill="#fcffa4" fill-opacity="0.5"/>
<circle cx="851.10" cy="298.50" r="9.1" fill="#fcffa4" fill-opacity="0.5"/>
<circle cx="789.40" cy="289.30" r="9.1" fill="#fcffa4" fill-opacity="0.5"/>
<circle cx="758.55" cy="298.00" r="9.1" fill="#fcffa4" fill-opacity="0.5"/>
<circle cx="743.12" cy="322.00" r="9.1" fill="#fcffa4" fill-opacity="0.5"/>
<circle cx="743.12" cy="340.00" r="9.1" fill="#fcffa4" fill-opacity="0.5"/>
<circle cx="727.70" cy="334.00" r="9.1" fill="#fcffa4" fill-opacity="0.5"/>
<circle cx="696.85" cy="322.20" r="9.1" fill="#fcffa4" fill-opacity="0.5"/>
<circle cx="696.85" cy="335.70" r="9.1" fill="#fcffa4" fill-opacity="0.5"/>
<circle cx="696.85" cy="350.00" r="9.1" fill="#fcffa4" fill-opacity="0.5"/>
<circle cx="681.42" cy="387.00" r="9.1" fill="#fcffa4" fill-opacity="0.5"/>
<circle cx="681.42" cy="363.60" r="9.1" fill="#fcffa4" fill-opacity="0.5"/>
<circle cx="681.42" cy="368.20" r="9.1" fill="#fcffa4" fill-opacity="0.5"/>
<circle cx="681.42" cy="388.50" r="9.1" fill="#fcffa4" fill-opacity="0.5"/>
<circle cx="666.00" cy="505.00" r="9.1" fill="#fcffa4" fill-opacity="0.5"/>
<circle cx="666.00" cy="510.00" r="9.1" fill="#fcffa4" fill-opacity="0.5"/>
<circle cx="666.00" cy="514.00" r="9.1" fill="#fcffa4" fill-opacity="0.5"/>
<circle cx="1283.00" cy="126.00" r="9.1" fill="#f9cb35" fill-opacity="0.5"/>
<circle cx="1283.00" cy="145.70" r="9.1" fill="#f9cb35" fill-opacity="0.5"/>
<circle cx="1159.60" cy="135.70" r="9.1" fill="#f9cb35" fill-opacity="0.5"/>
<circle cx="1159.60" cy="162.80" r="9.1" fill="#f9cb35" fill-opacity="0.5"/>
<circle cx="1036.20" cy="147.00" r="9.1" fill="#f9cb35" fill-opacity="0.5"/>
<circle cx="1036.20" cy="151.00" r="9.1" fill="#f9cb35" fill-opacity="0.5"/>
<circle cx="912.80" cy="230.40" r="9.1" fill="#f9cb35" fill-opacity="0.5"/>
<circle cx="789.40" cy="282.00" r="9.1" fill="#f9cb35" fill-opacity="0.5"/>
<circle cx="789.40" cy="316.30" r="9.1" fill="#f9cb35" fill-opacity="0.5"/>
<circle cx="758.55" cy="311.00" r="9.1" fill="#f9cb35" fill-opacity="0.5"/>
<circle cx="743.12" cy="321.00" r="9.1" fill="#f9cb35" fill-opacity="0.5"/>
<circle cx="743.12" cy="348.50" r="9.1" fill="#f9cb35" fill-opacity="0.5"/>
<circle cx="681.42" cy="401.80" r="9.1" fill="#f9cb35" fill-opacity="0.5"/>
<circle cx="666.00" cy="503.00" r="9.1" fill="#f9cb35" fill-opacity="0.5"/>
<circle cx="666.00" cy="508.00" r="9.1" fill="#f9cb35" fill-opacity="0.5"/>
<circle cx="666.00" cy="516.00" r="9.1" fill="#f9cb35" fill-opacity="0.5"/>
<circle cx="1283.00" cy="99.50" r="9.1" fill="#f98e09" fill-opacity="0.5"/>
<circle cx="1283.00" cy="100.50" r="9.1" fill="#f98e09" fill-opacity="0.5"/>
<circle cx="1283.00" cy="113.70" r="9.1" fill="#f98e09" fill-opacity="0.5"/>
<circle cx="1159.60" cy="145.00" r="9.1" fill="#f98e09" fill-opacity="0.5"/>
<circle cx="1159.60" cy="142.50" r="9.1" fill="#f98e09" fill-opacity="0.5"/>
<circle cx="1159.60" cy="147.60" r="9.1" fill="#f98e09" fill-opacity="0.5"/>
<circle cx="1036.20" cy="173.00" r="9.1" fill="#f98e09" fill-opacity="0.5"/>
<circle cx="1036.20" cy="172.40" r="9.1" fill="#f98e09" fill-opacity="0.5"/>
<circle cx="1036.20" cy="180.80" r="9.1" fill="#f98e09" fill-opacity="0.5"/>
<circle cx="912.80" cy="231.00" r="9.1" fill="#f98e09" fill-opacity="0.5"/>
<circle cx="912.80" cy="243.30" r="9.1" fill="#f98e09" fill-opacity="0.5"/>
<circle cx="912.80" cy="247.00" r="9.1" fill="#f98e09" fill-opacity="0.5"/>
<circle cx="912.80" cy="258.00" r="9.1" fill="#f98e09" fill-opacity="0.5"/>
<circle cx="851.10" cy="276.50" r="9.1" fill="#f98e09" fill-opacity="0.5"/>
<circle cx="851.10" cy="264.80" r="9.1" fill="#f98e09" fill-opacity="0.5"/>
<circle cx="851.10" cy="276.10" r="9.1" fill="#f98e09" fill-opacity="0.5"/>
<circle cx="789.40" cy="271.60" r="9.1" fill="#f98e09" fill-opacity="0.5"/>
<circle cx="789.40" cy="307.00" r="9.1" fill="#f98e09" fill-opacity="0.5"/>
<circle cx="789.40" cy="306.50" r="9.1" fill="#f98e09" fill-opacity="0.5"/>
<circle cx="758.55" cy="322.70" r="9.1" fill="#f98e09" fill-opacity="0.5"/>
<circle cx="758.55" cy="325.90" r="9.1" fill="#f98e09" fill-opacity="0.5"/>
<circle cx="743.12" cy="314.00" r="9.1" fill="#f98e09" fill-opacity="0.5"/>
<circle cx="743.12" cy="333.00" r="9.1" fill="#f98e09" fill-opacity="0.5"/>
<circle cx="743.12" cy="335.60" r="9.1" fill="#f98e09" fill-opacity="0.5"/>
<circle cx="727.70" cy="343.00" r="9.1" fill="#f98e09" fill-opacity="0.5"/>
<circle cx="727.70" cy="355.00" r="9.1" fill="#f98e09" fill-opacity="0.5"/>
<circle cx="727.70" cy="361.40" r="9.1" fill="#f98e09" fill-opacity="0.5"/>
<circle cx="727.70" cy="371.00" r="9.1" fill="#f98e09" fill-opacity="0.5"/>
<circle cx="696.85" cy="390.80" r="9.1" fill="#f98e09" fill-opacity="0.5"/>
<circle cx="696.85" cy="391.20" r="9.1" fill="#f98e09" fill-opacity="0.5"/>
<circle cx="681.42" cy="421.00" r="9.1" fill="#f98e09" fill-opacity="0.5"/>
<circle cx="681.42" cy="426.00" r="9.1" fill="#f98e09" fill-opacity="0.5"/>
<circle cx="681.42" cy="432.00" r="9.1" fill="#f98e09" fill-opacity="0.5"/>
<circle cx="681.42" cy="410.80" r="9.1" fill="#f98e09" fill-opacity="0.5"/>
<circle cx="681.42" cy="417.90" r="9.1" fill="#f98e09" fill-opacity="0.5"/>
<circle cx="666.00" cy="506.00" r="9.1" fill="#f98e09" fill-opacity="0.5"/>
<circle cx="666.00" cy="512.00" r="9.1" fill="#f98e09" fill-opacity="0.5"/>
<circle cx="666.00" cy="518.00" r="9.1" fill="#f98e09" fill-opacity="0.5"/>
<circle cx="1283.00" cy="171.50" r="9.1" fill="#e45a31" fill-opacity="0.5"/>
<circle cx="1283.00" cy="170.70" r="9.1" fill="#e45a31" fill-opacity="0.5"/>
<circle cx="1283.00" cy="196.50" r="9.1" fill="#e45a31" fill-opacity="0.5"/>
<circle cx="1283.00" cy="211.00" r="9.1" fill="#e45a31" fill-opacity="0.5"/>
<circle cx="1159.60" cy="185.40" r="9.1" fill="#e45a31" fill-opacity="0.5"/>
<circle cx="1159.60" cy="205.70" r="9.1" fill="#e45a31" fill-opacity="0.5"/>
<circle cx="1036.20" cy="198.40" r="9.1" fill="#e45a31" fill-opacity="0.5"/>
<circle cx="1036.20" cy="211.90" r="9.1" fill="#e45a31" fill-opacity="0.5"/>
<circle cx="1036.20" cy="218.00" r="9.1" fill="#e45a31" fill-opacity="0.5"/>
<circle cx="912.80" cy="257.30" r="9.1" fill="#e45a31" fill-opacity="0.5"/>
<circle cx="912.80" cy="263.00" r="9.1" fill="#e45a31" fill-opacity="0.5"/>
<circle cx="912.80" cy="280.70" r="9.1" fill="#e45a31" fill-opacity="0.5"/>
<circle cx="912.80" cy="296.60" r="9.1" fill="#e45a31" fill-opacity="0.5"/>
<circle cx="851.10" cy="282.60" r="9.1" fill="#e45a31" fill-opacity="0.5"/>
<circle cx="851.10" cy="308.40" r="9.1" fill="#e45a31" fill-opacity="0.5"/>
<circle cx="789.40" cy="310.20" r="9.1" fill="#e45a31" fill-opacity="0.5"/>
<circle cx="789.40" cy="329.90" r="9.1" fill="#e45a31" fill-opacity="0.5"/>
<circle cx="789.40" cy="333.50" r="9.1" fill="#e45a31" fill-opacity="0.5"/>
<circle cx="758.55" cy="323.50" r="9.1" fill="#e45a31" fill-opacity="0.5"/>
<circle cx="758.55" cy="336.70" r="9.1" fill="#e45a31" fill-opacity="0.5"/>
<circle cx="758.55" cy="345.30" r="9.1" fill="#e45a31" fill-opacity="0.5"/>
<circle cx="743.12" cy="358.20" r="9.1" fill="#e45a31" fill-opacity="0.5"/>
<circle cx="743.12" cy="364.60" r="9.1" fill="#e45a31" fill-opacity="0.5"/>
<circle cx="743.12" cy="371.00" r="9.1" fill="#e45a31" fill-opacity="0.5"/>
<circle cx="727.70" cy="350.60" r="9.1" fill="#e45a31" fill-opacity="0.5"/>
<circle cx="696.85" cy="400.00" r="9.1" fill="#e45a31" fill-opacity="0.5"/>
<circle cx="696.85" cy="369.10" r="9.1" fill="#e45a31" fill-opacity="0.5"/>
<circle cx="696.85" cy="381.10" r="9.1" fill="#e45a31" fill-opacity="0.5"/>
<circle cx="681.42" cy="410.00" r="9.1" fill="#e45a31" fill-opacity="0.5"/>
<circle cx="681.42" cy="414.60" r="9.1" fill="#e45a31" fill-opacity="0.5"/>
<circle cx="681.42" cy="427.80" r="9.1" fill="#e45a31" fill-opacity="0.5"/>
<circle cx="681.42" cy="442.30" r="9.1" fill="#e45a31" fill-opacity="0.5"/>
<circle cx="666.00" cy="502.00" r="9.1" fill="#e45a31" fill-opacity="0.5"/>
<circle cx="666.00" cy="509.00" r="9.1" fill="#e45a31" fill-opacity="0.5"/>
<circle cx="666.00" cy="515.00" r="9.1" fill="#e45a31" fill-opacity="0.5"/>
<circle cx="1283.00" cy="204.60" r="9.1" fill="#bc3754" fill-opacity="0.5"/>
<circle cx="1283.00" cy="229.20" r="9.1" fill="#bc3754" fill-opacity="0.5"/>
<circle cx="1283.00" cy="348.80" r="9.1" fill="#bc3754" fill-opacity="0.5"/>
<circle cx="1159.60" cy="216.00" r="9.1" fill="#bc3754" fill-opacity="0.5"/>
<circle cx="1159.60" cy="213.40" r="9.1" fill="#bc3754" fill-opacity="0.5"/>
<circle cx="1159.60" cy="223.60" r="9.1" fill="#bc3754" fill-opacity="0.5"/>
<circle cx="1036.20" cy="233.20" r="9.1" fill="#bc3754" fill-opacity="0.5"/>
<circle cx="1036.20" cy="261.90" r="9.1" fill="#bc3754" fill-opacity="0.5"/>
<circle cx="912.80" cy="303.30" r="9.1" fill="#bc3754" fill-opacity="0.5"/>
<circle cx="912.80" cy="313.40" r="9.1" fill="#bc3754" fill-opacity="0.5"/>
<circle cx="851.10" cy="314.80" r="9.1" fill="#bc3754" fill-opacity="0.5"/>
<circle cx="851.10" cy="345.50" r="9.1" fill="#bc3754" fill-opacity="0.5"/>
<circle cx="789.40" cy="350.70" r="9.1" fill="#bc3754" fill-opacity="0.5"/>
<circle cx="789.40" cy="361.80" r="9.1" fill="#bc3754" fill-opacity="0.5"/>
<circle cx="758.55" cy="357.10" r="9.1" fill="#bc3754" fill-opacity="0.5"/>
<circle cx="758.55" cy="370.00" r="9.1" fill="#bc3754" fill-opacity="0.5"/>
<circle cx="743.12" cy="377.50" r="9.1" fill="#bc3754" fill-opacity="0.5"/>
<circle cx="727.70" cy="379.70" r="9.1" fill="#bc3754" fill-opacity="0.5"/>
<circle cx="727.70" cy="394.00" r="9.1" fill="#bc3754" fill-opacity="0.5"/>
<circle cx="696.85" cy="407.00" r="9.1" fill="#bc3754" fill-opacity="0.5"/>
<circle cx="696.85" cy="412.00" r="9.1" fill="#bc3754" fill-opacity="0.5"/>
<circle cx="696.85" cy="404.30" r="9.1" fill="#bc3754" fill-opacity="0.5"/>
<circle cx="681.42" cy="443.00" r="9.1" fill="#bc3754" fill-opacity="0.5"/>
<circle cx="681.42" cy="453.50" r="9.1" fill="#bc3754" fill-opacity="0.5"/>
<circle cx="666.00" cy="479.00" r="9.1" fill="#bc3754" fill-opacity="0.5"/>
<circle cx="666.00" cy="505.00" r="9.1" fill="#bc3754" fill-opacity="0.5"/>
<circle cx="666.00" cy="513.00" r="9.1" fill="#bc3754" fill-opacity="0.5"/>
<circle cx="1283.00" cy="244.40" r="9.1" fill="#8a226a" fill-opacity="0.5"/>
<circle cx="1283.00" cy="252.30" r="9.1" fill="#8a226a" fill-opacity="0.5"/>
<circle cx="1283.00" cy="288.10" r="9.1" fill="#8a226a" fill-opacity="0.5"/>
<circle cx="1159.60" cy="255.70" r="9.1" fill="#8a226a" fill-opacity="0.5"/>
<circle cx="1159.60" cy="267.50" r="9.1" fill="#8a226a" fill-opacity="0.5"/>
<circle cx="1159.60" cy="318.40" r="9.1" fill="#8a226a" fill-opacity="0.5"/>
<circle cx="1036.20" cy="250.00" r="9.1" fill="#8a226a" fill-opacity="0.5"/>
<circle cx="1036.20" cy="273.70" r="9.1" fill="#8a226a" fill-opacity="0.5"/>
<circle cx="1036.20" cy="302.40" r="9.1" fill="#8a226a" fill-opacity="0.5"/>
<circle cx="912.80" cy="310.00" r="9.1" fill="#8a226a" fill-opacity="0.5"/>
<circle cx="912.80" cy="338.80" r="9.1" fill="#8a226a" fill-opacity="0.5"/>
<circle cx="851.10" cy="332.60" r="9.1" fill="#8a226a" fill-opacity="0.5"/>
<circle cx="851.10" cy="339.00" r="9.1" fill="#8a226a" fill-opacity="0.5"/>
<circle cx="851.10" cy="358.40" r="9.1" fill="#8a226a" fill-opacity="0.5"/>
<circle cx="789.40" cy="370.40" r="9.1" fill="#8a226a" fill-opacity="0.5"/>
<circle cx="789.40" cy="380.20" r="9.1" fill="#8a226a" fill-opacity="0.5"/>
<circle cx="789.40" cy="384.00" r="9.1" fill="#8a226a" fill-opacity="0.5"/>
<circle cx="789.40" cy="399.80" r="9.1" fill="#8a226a" fill-opacity="0.5"/>
<circle cx="758.55" cy="365.70" r="9.1" fill="#8a226a" fill-opacity="0.5"/>
<circle cx="758.55" cy="382.90" r="9.1" fill="#8a226a" fill-opacity="0.5"/>
<circle cx="758.55" cy="399.00" r="9.1" fill="#8a226a" fill-opacity="0.5"/>
<circle cx="743.12" cy="386.10" r="9.1" fill="#8a226a" fill-opacity="0.5"/>
<circle cx="743.12" cy="394.70" r="9.1" fill="#8a226a" fill-opacity="0.5"/>
<circle cx="743.12" cy="398.60" r="9.1" fill="#8a226a" fill-opacity="0.5"/>
<circle cx="743.12" cy="413.70" r="9.1" fill="#8a226a" fill-opacity="0.5"/>
<circle cx="727.70" cy="404.00" r="9.1" fill="#8a226a" fill-opacity="0.5"/>
<circle cx="727.70" cy="420.00" r="9.1" fill="#8a226a" fill-opacity="0.5"/>
<circle cx="727.70" cy="442.70" r="9.1" fill="#8a226a" fill-opacity="0.5"/>
<circle cx="696.85" cy="421.00" r="9.1" fill="#8a226a" fill-opacity="0.5"/>
<circle cx="696.85" cy="433.00" r="9.1" fill="#8a226a" fill-opacity="0.5"/>
<circle cx="696.85" cy="416.70" r="9.1" fill="#8a226a" fill-opacity="0.5"/>
<circle cx="696.85" cy="424.50" r="9.1" fill="#8a226a" fill-opacity="0.5"/>
<circle cx="696.85" cy="430.00" r="9.1" fill="#8a226a" fill-opacity="0.5"/>
<circle cx="681.42" cy="452.00" r="9.1" fill="#8a226a" fill-opacity="0.5"/>
<circle cx="681.42" cy="456.80" r="9.1" fill="#8a226a" fill-opacity="0.5"/>
<circle cx="666.00" cy="500.00" r="9.1" fill="#8a226a" fill-opacity="0.5"/>
<circle cx="666.00" cy="511.00" r="9.1" fill="#8a226a" fill-opacity="0.5"/>
<circle cx="666.00" cy="516.00" r="9.1" fill="#8a226a" fill-opacity="0.5"/>
<circle cx="1283.00" cy="359.90" r="9.1" fill="#57106e" fill-opacity="0.5"/>
<circle cx="1283.00" cy="378.50" r="9.1" fill="#57106e" fill-opacity="0.5"/>
<circle cx="1159.60" cy="331.80" r="9.1" fill="#57106e" fill-opacity="0.5"/>
<circle cx="1159.60" cy="353.00" r="9.1" fill="#57106e" fill-opacity="0.5"/>
<circle cx="1036.20" cy="325.00" r="9.1" fill="#57106e" fill-opacity="0.5"/>
<circle cx="1036.20" cy="368.40" r="9.1" fill="#57106e" fill-opacity="0.5"/>
<circle cx="1036.20" cy="410.30" r="9.1" fill="#57106e" fill-opacity="0.5"/>
<circle cx="912.80" cy="357.00" r="9.1" fill="#57106e" fill-opacity="0.5"/>
<circle cx="912.80" cy="361.00" r="9.1" fill="#57106e" fill-opacity="0.5"/>
<circle cx="912.80" cy="374.30" r="9.1" fill="#57106e" fill-opacity="0.5"/>
<circle cx="851.10" cy="374.50" r="9.1" fill="#57106e" fill-opacity="0.5"/>
<circle cx="851.10" cy="377.70" r="9.1" fill="#57106e" fill-opacity="0.5"/>
<circle cx="851.10" cy="397.10" r="9.1" fill="#57106e" fill-opacity="0.5"/>
<circle cx="851.10" cy="443.30" r="9.1" fill="#57106e" fill-opacity="0.5"/>
<circle cx="789.40" cy="423.30" r="9.1" fill="#57106e" fill-opacity="0.5"/>
<circle cx="758.55" cy="403.50" r="9.1" fill="#57106e" fill-opacity="0.5"/>
<circle cx="758.55" cy="434.00" r="9.1" fill="#57106e" fill-opacity="0.5"/>
<circle cx="758.55" cy="458.80" r="9.1" fill="#57106e" fill-opacity="0.5"/>
<circle cx="743.12" cy="403.30" r="9.1" fill="#57106e" fill-opacity="0.5"/>
<circle cx="743.12" cy="422.30" r="9.1" fill="#57106e" fill-opacity="0.5"/>
<circle cx="743.12" cy="453.40" r="9.1" fill="#57106e" fill-opacity="0.5"/>
<circle cx="743.12" cy="469.60" r="9.1" fill="#57106e" fill-opacity="0.5"/>
<circle cx="727.70" cy="432.00" r="9.1" fill="#57106e" fill-opacity="0.5"/>
<circle cx="727.70" cy="456.70" r="9.1" fill="#57106e" fill-opacity="0.5"/>
<circle cx="727.70" cy="483.50" r="9.1" fill="#57106e" fill-opacity="0.5"/>
<circle cx="696.85" cy="456.80" r="9.1" fill="#57106e" fill-opacity="0.5"/>
<circle cx="696.85" cy="466.80" r="9.1" fill="#57106e" fill-opacity="0.5"/>
<circle cx="681.42" cy="475.70" r="9.1" fill="#57106e" fill-opacity="0.5"/>
<circle cx="681.42" cy="520.30" r="9.1" fill="#57106e" fill-opacity="0.5"/>
<circle cx="666.00" cy="496.00" r="9.1" fill="#57106e" fill-opacity="0.5"/>
<circle cx="666.00" cy="507.00" r="9.1" fill="#57106e" fill-opacity="0.5"/>
<circle cx="666.00" cy="514.00" r="9.1" fill="#57106e" fill-opacity="0.5"/>
<circle cx="1283.00" cy="450.00" r="9.1" fill="#210c4a" fill-opacity="0.5"/>
<circle cx="1283.00" cy="455.00" r="9.1" fill="#210c4a" fill-opacity="0.5"/>
<circle cx="1283.00" cy="465.80" r="9.1" fill="#210c4a" fill-opacity="0.5"/>
<circle cx="1283.00" cy="494.00" r="9.1" fill="#210c4a" fill-opacity="0.5"/>
<circle cx="1159.60" cy="440.50" r="9.1" fill="#210c4a" fill-opacity="0.5"/>
<circle cx="1159.60" cy="464.00" r="9.1" fill="#210c4a" fill-opacity="0.5"/>
<circle cx="1159.60" cy="468.00" r="9.1" fill="#210c4a" fill-opacity="0.5"/>
<circle cx="1036.20" cy="453.90" r="9.1" fill="#210c4a" fill-opacity="0.5"/>
<circle cx="1036.20" cy="458.00" r="9.1" fill="#210c4a" fill-opacity="0.5"/>
<circle cx="1036.20" cy="476.50" r="9.1" fill="#210c4a" fill-opacity="0.5"/>
<circle cx="912.80" cy="468.40" r="9.1" fill="#210c4a" fill-opacity="0.5"/>
<circle cx="912.80" cy="474.90" r="9.1" fill="#210c4a" fill-opacity="0.5"/>
<circle cx="912.80" cy="484.00" r="9.1" fill="#210c4a" fill-opacity="0.5"/>
<circle cx="851.10" cy="479.20" r="9.1" fill="#210c4a" fill-opacity="0.5"/>
<circle cx="851.10" cy="483.50" r="9.1" fill="#210c4a" fill-opacity="0.5"/>
<circle cx="789.40" cy="479.20" r="9.1" fill="#210c4a" fill-opacity="0.5"/>
<circle cx="789.40" cy="484.60" r="9.1" fill="#210c4a" fill-opacity="0.5"/>
<circle cx="789.40" cy="495.40" r="9.1" fill="#210c4a" fill-opacity="0.5"/>
<circle cx="758.55" cy="480.30" r="9.1" fill="#210c4a" fill-opacity="0.5"/>
<circle cx="758.55" cy="482.50" r="9.1" fill="#210c4a" fill-opacity="0.5"/>
<circle cx="743.12" cy="493.20" r="9.1" fill="#210c4a" fill-opacity="0.5"/>
<circle cx="743.12" cy="502.90" r="9.1" fill="#210c4a" fill-opacity="0.5"/>
<circle cx="727.70" cy="490.00" r="9.1" fill="#210c4a" fill-opacity="0.5"/>
<circle cx="727.70" cy="495.40" r="9.1" fill="#210c4a" fill-opacity="0.5"/>
<circle cx="696.85" cy="494.50" r="9.1" fill="#210c4a" fill-opacity="0.5"/>
<circle cx="696.85" cy="497.00" r="9.1" fill="#210c4a" fill-opacity="0.5"/>
<circle cx="681.42" cy="493.50" r="9.1" fill="#210c4a" fill-opacity="0.5"/>
<circle cx="681.42" cy="490.00" r="9.1" fill="#210c4a" fill-opacity="0.5"/>
<circle cx="666.00" cy="492.00" r="9.1" fill="#210c4a" fill-opacity="0.5"/>
<circle cx="666.00" cy="497.00" r="9.1" fill="#210c4a" fill-opacity="0.5"/>
<circle cx="666.00" cy="532.00" r="9.1" fill="#210c4a" fill-opacity="0.5"/>
<circle cx="1283.00" cy="505.50" r="9.1" fill="#000004" fill-opacity="0.5"/>
<circle cx="1283.00" cy="508.00" r="9.1" fill="#000004" fill-opacity="0.5"/>
<circle cx="1283.00" cy="516.20" r="9.1" fill="#000004" fill-opacity="0.5"/>
<circle cx="1159.60" cy="507.00" r="9.1" fill="#000004" fill-opacity="0.5"/>
<circle cx="1159.60" cy="510.00" r="9.1" fill="#000004" fill-opacity="0.5"/>
<circle cx="1159.60" cy="514.00" r="9.1" fill="#000004" fill-opacity="0.5"/>
<circle cx="1036.20" cy="500.60" r="9.1" fill="#000004" fill-opacity="0.5"/>
<circle cx="1036.20" cy="510.30" r="9.1" fill="#000004" fill-opacity="0.5"/>
<circle cx="1036.20" cy="513.50" r="9.1" fill="#000004" fill-opacity="0.5"/>
<circle cx="912.80" cy="502.30" r="9.1" fill="#000004" fill-opacity="0.5"/>
<circle cx="912.80" cy="510.10" r="9.1" fill="#000004" fill-opacity="0.5"/>
<circle cx="912.80" cy="514.00" r="9.1" fill="#000004" fill-opacity="0.5"/>
<circle cx="851.10" cy="504.00" r="9.1" fill="#000004" fill-opacity="0.5"/>
<circle cx="851.10" cy="507.20" r="9.1" fill="#000004" fill-opacity="0.5"/>
<circle cx="851.10" cy="511.50" r="9.1" fill="#000004" fill-opacity="0.5"/>
<circle cx="789.40" cy="502.90" r="9.1" fill="#000004" fill-opacity="0.5"/>
<circle cx="789.40" cy="508.30" r="9.1" fill="#000004" fill-opacity="0.5"/>
<circle cx="789.40" cy="513.70" r="9.1" fill="#000004" fill-opacity="0.5"/>
<circle cx="758.55" cy="504.00" r="9.1" fill="#000004" fill-opacity="0.5"/>
<circle cx="758.55" cy="508.30" r="9.1" fill="#000004" fill-opacity="0.5"/>
<circle cx="758.55" cy="521.20" r="9.1" fill="#000004" fill-opacity="0.5"/>
<circle cx="743.12" cy="513.70" r="9.1" fill="#000004" fill-opacity="0.5"/>
<circle cx="743.12" cy="525.50" r="9.1" fill="#000004" fill-opacity="0.5"/>
<circle cx="727.70" cy="489.00" r="9.1" fill="#000004" fill-opacity="0.5"/>
<circle cx="727.70" cy="492.00" r="9.1" fill="#000004" fill-opacity="0.5"/>
<circle cx="727.70" cy="501.80" r="9.1" fill="#000004" fill-opacity="0.5"/>
<circle cx="727.70" cy="514.70" r="9.1" fill="#000004" fill-opacity="0.5"/>
<circle cx="696.85" cy="508.00" r="9.1" fill="#000004" fill-opacity="0.5"/>
<circle cx="696.85" cy="510.50" r="9.1" fill="#000004" fill-opacity="0.5"/>
<circle cx="696.85" cy="513.00" r="9.1" fill="#000004" fill-opacity="0.5"/>
<circle cx="681.42" cy="508.00" r="9.1" fill="#000004" fill-opacity="0.5"/>
<circle cx="681.42" cy="510.50" r="9.1" fill="#000004" fill-opacity="0.5"/>
<circle cx="681.42" cy="512.00" r="9.1" fill="#000004" fill-opacity="0.5"/>
<circle cx="666.00" cy="495.00" r="9.1" fill="#000004" fill-opacity="0.5"/>
<circle cx="666.00" cy="500.00" r="9.1" fill="#000004" fill-opacity="0.5"/>
<circle cx="666.00" cy="503.00" r="9.1" fill="#000004" fill-opacity="0.5"/>
<circle cx="666.00" cy="532.00" r="9.1" fill="#000004" fill-opacity="0.5"/>
</g>
<line x1="635.50" y1="63.35" x2="635.50" y2="557.15" stroke="#000" stroke-width="4.5" stroke-linecap="butt"/>
<line x1="633.25" y1="554.90" x2="1315.95" y2="554.90" stroke="#000" stroke-width="4.5" stroke-linecap="butt"/>
<line x1="635.50" y1="509.40" x2="651.30" y2="509.40" stroke="#000" stroke-width="3.6" stroke-linecap="butt"/>
</svg></body></html>
